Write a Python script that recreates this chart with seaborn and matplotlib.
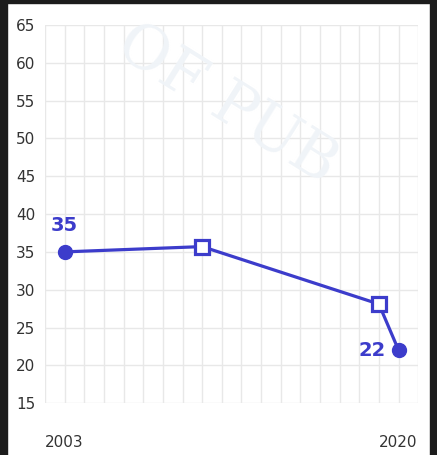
import matplotlib
matplotlib.use("Agg")
import matplotlib.pyplot as plt
from matplotlib.patches import Rectangle
import seaborn as sns
import pandas as pd

# chart data
years = [2003, 2010, 2019, 2020]
values = [35, 35.7, 28.1, 22]
point_kind = ["end", "mid", "mid", "end"]
labelled_years = [2003, 2020]
labelled_values = [35, 22]
y_ticks = [15, 20, 25, 30, 35, 40, 45, 50, 55, 60, 65]

BLUE = "#3c3ccb"

df = pd.DataFrame({"year": years, "value": values, "kind": point_kind})

sns.set_style("white")
plt.rcParams["font.family"] = ["DejaVu Sans"]

fig = plt.figure(figsize=(4.37, 4.55), dpi=100)
fig.patch.set_facecolor("white")
ax = fig.add_axes([0.103, 0.114, 0.854, 0.831])

# line
sns.lineplot(data=df, x="year", y="value", color=BLUE, linewidth=2.3, ax=ax, zorder=3)

# end points as filled circles, middle ones as hollow squares
ends = df[df["kind"] == "end"]
mids = df[df["kind"] == "mid"]
ax.plot(ends["year"], ends["value"], "o", color=BLUE, markersize=10, zorder=4)
ax.plot(mids["year"], mids["value"], "s", markerfacecolor="white",
        markeredgecolor=BLUE, markeredgewidth=2.3, markersize=9.5, zorder=4)

ax.set_xlim(2002, 2021)
ax.set_ylim(15, 65)

# grid: one vertical line per year, horizontal every 5
for yr in range(2002, 2022):
    ax.axvline(yr, color="#e8e8e8", linewidth=1, zorder=0)
for v in y_ticks:
    ax.axhline(v, color="#e8e8e8", linewidth=1, zorder=0)

ax.set_xticks(labelled_years)
ax.set_xticklabels([str(y) for y in labelled_years])
ax.set_yticks(y_ticks)
ax.tick_params(axis="x", length=17, width=1, color="#dddddd", pad=6,
               labelsize=11, labelcolor="#333333")
ax.tick_params(axis="y", length=0, pad=7, labelsize=11, labelcolor="#333333")
ax.set_xlabel("")
ax.set_ylabel("")
for s in ax.spines.values():
    s.set_visible(False)

# value labels
ax.text(labelled_years[0], labelled_values[0] + 2.2, str(labelled_values[0]),
        color=BLUE, fontsize=14, fontweight="bold", ha="center", va="bottom")
ax.text(labelled_years[1] - 0.65, labelled_values[1], str(labelled_values[1]),
        color=BLUE, fontsize=14, fontweight="bold", ha="right", va="center")

# faint watermark
fig.text(0.52, 0.77, "OF PUB", fontsize=44, color="#f0f4f8", rotation=-32,
         ha="center", va="center", family="DejaVu Serif", zorder=0)

# dark frame around the picture
fig.patches.append(Rectangle((0, 0), 0.016, 1, transform=fig.transFigure,
                             color="#1c1c1c", zorder=10))
fig.patches.append(Rectangle((0.984, 0), 0.016, 1, transform=fig.transFigure,
                             color="#1c1c1c", zorder=10))
fig.patches.append(Rectangle((0, 0.993), 1, 0.007, transform=fig.transFigure,
                             color="#1c1c1c", zorder=10))

fig.savefig("out.png", dpi=100)
